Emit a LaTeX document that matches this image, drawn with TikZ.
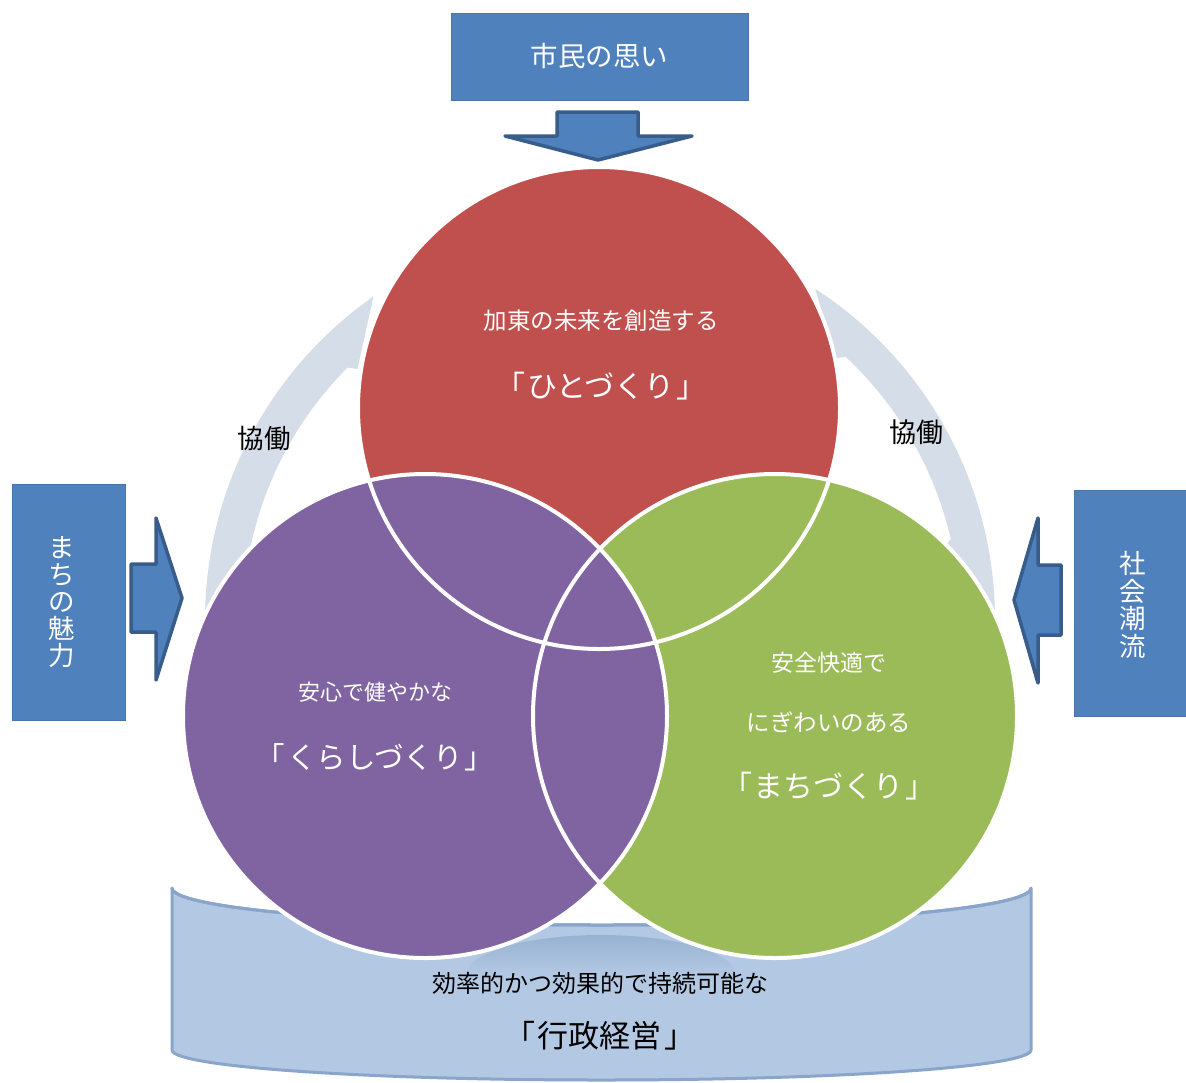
\documentclass[tikz,border=0pt]{standalone}
\usepackage{fontspec}
\setmainfont{Noto Sans CJK JP}
\usetikzlibrary{calc}
\definecolor{cred}{HTML}{C0504D}
\definecolor{cpurple}{HTML}{8064A2}
\definecolor{cgreen}{HTML}{9BBB59}
\definecolor{cblue}{HTML}{4F81BD}
\definecolor{cblueedge}{HTML}{385D8A}
\definecolor{cband}{HTML}{D5DEE8}
\definecolor{ccyl}{HTML}{B3C8E3}
\definecolor{ccyledge}{HTML}{89A5CB}
\definecolor{ccyldark}{HTML}{97B2D2}
\tikzset{
  bluebox/.style={rectangle, fill=cblue, draw=cblue!90!black, line width=0.8pt, inner sep=0pt},
  blockarrow/.style={fill=cblue, draw=cblueedge, line width=3.5pt, line join=round},
  wtxt/.style={text=white, inner sep=0pt},
  btxt/.style={text=black, inner sep=0pt},
  ring/.style={draw=white, line width=4pt},
  band/.style={fill=cband},
}
\begin{document}
\begin{tikzpicture}[x=1pt,y=-1pt]
\useasboundingbox (0,0) rectangle (1186,1082);
\fill[white] (0,0) rectangle (1186,1082);

% centres
\coordinate (C) at (600,620);
\coordinate (cR) at (599,408);
\coordinate (cP) at (425,716);
\coordinate (cG) at (775,716);

% grey circular bands (behind)
\fill[band] ([shift={(182:395pt)}]C) arc[start angle=182, end angle=125, radius=395pt]
  -- ([shift={(134:349pt)}]C) -- ([shift={(135:357pt)}]C)
  arc[start angle=135, end angle=172, radius=357pt]
  -- ([shift={(173:349pt)}]C) -- cycle;
\fill[band] ([shift={(57:395pt)}]C) arc[start angle=57, end angle=-2, radius=395pt]
  -- ([shift={(12:352pt)}]C) -- ([shift={(13:360pt)}]C)
  arc[start angle=13, end angle=47, radius=360pt]
  -- ([shift={(48:352pt)}]C) -- cycle;

% cylinder base
\filldraw[fill=ccyl, draw=ccyledge, line width=3pt, line join=round]
  (172,888) arc[start angle=180, end angle=360, x radius=429.5pt, y radius=37pt]
  -- (1031,1050) arc[start angle=0, end angle=-180, x radius=429.5pt, y radius=30pt]
  -- cycle;
\shade[top color=ccyldark, bottom color=ccyl]
  (466,975) arc[start angle=180, end angle=0, x radius=135pt, y radius=40pt] -- cycle;
\draw[ccyledge, line width=3pt] (172,888) arc[start angle=180, end angle=360, x radius=429.5pt, y radius=37pt];

% circles
\fill[cred] (cR) circle[radius=241pt];
\fill[cgreen] (cG) circle[radius=242pt];
\fill[cpurple] (cP) circle[radius=242pt];
\draw[ring] (cR) circle[radius=241pt];
\draw[ring] (cG) circle[radius=242pt];
\draw[ring] (cP) circle[radius=242pt];

% circle texts
\node[wtxt, font=\fontsize{23.5}{26}\selectfont] (r1) at (601,321) {加東の未来を創造する};
\node[wtxt, font=\fontsize{30}{34}\selectfont] (r2) at (601,386) {「\kern2pt ひとづくり\kern2pt 」};
\node[wtxt, font=\fontsize{22}{26}\selectfont] (p1) at (375,692) {安心で健やかな};
\node[wtxt, font=\fontsize{29.5}{34}\selectfont] (p2) at (375,757) {「\kern2pt くらしづくり\kern2pt 」};
\node[wtxt, font=\fontsize{23}{26}\selectfont] (g1) at (829,663) {安全快適で};
\node[wtxt, font=\fontsize{23.5}{26}\selectfont] (g2) at (829,722) {にぎわいのある};
\node[wtxt, font=\fontsize{30}{34}\selectfont] (g3) at (829,786) {「\kern2pt まちづくり\kern2pt 」};

% base texts
\node[btxt, font=\fontsize{24}{28}\selectfont] (b1) at (600,983) {効率的かつ効果的で持続可能な};
\node[btxt, font=\fontsize{31}{34}\selectfont] (b2) at (600,1036) {「\kern3pt 行政経営\kern3pt 」};

% kyodo labels
\node[btxt, font=\fontsize{26.5}{30}\selectfont] (k1) at (264,438) {協働};
\node[btxt, font=\fontsize{27}{30}\selectfont] (k2) at (916,432) {協働};

% boxes
\node[bluebox, minimum width=297pt, minimum height=87pt] (top) at (599.5,56.5) {};
\node[wtxt, font=\fontsize{27.5}{30}\selectfont] (toptxt) at (top) {市民の思い};
\node[bluebox, minimum width=113pt, minimum height=236pt] (left) at (68.5,602) {};
\node[wtxt, align=center, font=\fontsize{26.5}{27}\selectfont] (lefttxt) at (62,602) {ま\\ち\\の\\魅\\力};
\node[bluebox, minimum width=113pt, minimum height=226pt] (right) at (1130.5,603) {};
\node[wtxt, align=center, font=\fontsize{26.5}{27.5}\selectfont] (righttxt) at (1133,605) {社\\会\\潮\\流};

% block arrows
\draw[blockarrow] (557,112) -- (638,112) -- (638,136) -- (692,136) -- (598,160)
  -- (505,136) -- (557,136) -- cycle;
\draw[blockarrow] (131,564) -- (156,564) -- (156,518) -- (182,598) -- (156,680)
  -- (156,632) -- (131,632) -- cycle;
\draw[blockarrow] (1061,565) -- (1038,565) -- (1038,518) -- (1014,600) -- (1038,683)
  -- (1038,635) -- (1061,635) -- cycle;
\end{tikzpicture}
\end{document}
